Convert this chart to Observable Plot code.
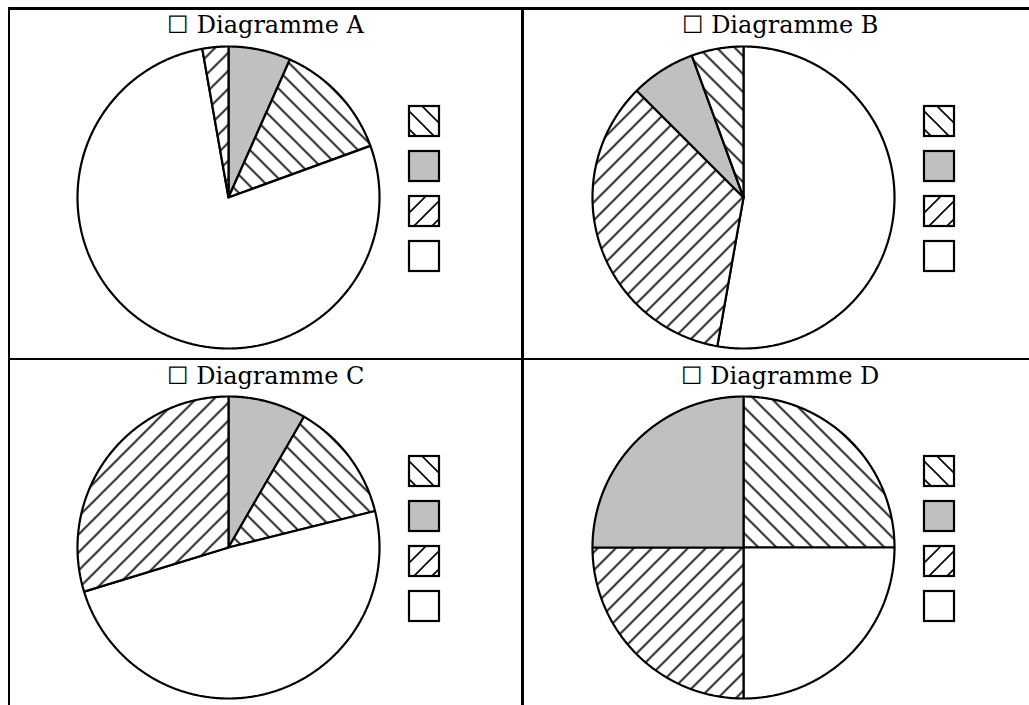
<!DOCTYPE html>
<html>
<head>
<meta charset="utf-8">
<script src="https://cdn.jsdelivr.net/npm/d3@7"></script>
<script src="https://cdn.jsdelivr.net/npm/@observablehq/plot@0.6"></script>
<style>
html, body { margin: 0; padding: 0; background: #fff; overflow: hidden; width: 1029px; height: 705px; }
.rule { position: absolute; background: #000; }
.title { position: absolute; font-family: "DejaVu Serif", "Liberation Serif", serif; font-size: 24px; line-height: 24px; text-align: center; color: #000; white-space: nowrap; }
.cell { position: absolute; }
.cell svg { display: block; overflow: visible; }
</style>
</head>
<body>
<svg width="0" height="0" style="position:absolute">
  <defs>
    <pattern id="hatchDown" patternUnits="userSpaceOnUse" width="18" height="18">
      <rect width="18" height="18" fill="#fff"/>
      <path d="M-2,-2L20,20M-2,16L2,20M16,-2L20,2" stroke="#000" stroke-width="1.6"/>
    </pattern>
    <pattern id="hatchUp" patternUnits="userSpaceOnUse" width="18" height="18">
      <rect width="18" height="18" fill="#fff"/>
      <path d="M-2,20L20,-2M-2,2L2,-2M16,20L20,16" stroke="#000" stroke-width="1.6"/>
    </pattern>
  </defs>
</svg>
<div id="root"></div>
<script>
// ---- data ----
const categories = ["hatchDown", "solid", "hatchUp", "blank"];          // legend order (top to bottom)
const fills = ["url(#hatchDown)", "#c0c0c0", "url(#hatchUp)", "#ffffff"];
const diagrams = ["A", "B", "C", "D"];
const titles = ["☐ Diagramme A", "☐ Diagramme B", "☐ Diagramme C", "☐ Diagramme D"];
// slice sizes (degrees), in the order of `categories`
const valuesA = [46, 24, 10, 280];
const valuesB = [20, 25, 125, 190];
const valuesC = [46, 30, 107, 177];
const valuesD = [90, 90, 90, 90];
// clockwise order of the slices and the slice that starts at 12 o'clock
const clockwiseOrder = ["solid", "hatchDown", "blank", "hatchUp"];
const firstSlice = ["solid", "blank", "solid", "hatchDown"];

// ---- layout ----
const R = 151;
const centers = [[228, 197], [743, 197], [228, 547], [743, 547]];
const cellTitle = [[9, 522, 13], [522, 1038, 13], [9, 522, 364], [522, 1038, 364]];
const W = 500, H = 322, CX = 218, CY = 161;

const root = document.getElementById("root");
function rule(l, t, w, h) {
  const d = document.createElement("div");
  d.className = "rule";
  Object.assign(d.style, {left: l + "px", top: t + "px", width: w + "px", height: h + "px"});
  root.appendChild(d);
}
rule(7.8, 7, 1022, 2.5);
rule(7.8, 357.8, 1022, 2.5);
rule(7.8, 7, 2.5, 700);
rule(521, 7, 2.5, 700);

function slicePoints(values, first) {
  const s = clockwiseOrder.indexOf(first);
  const order = d3.range(4).map(i => clockwiseOrder[(s + i) % 4]);
  const total = d3.sum(values);
  const pts = [];
  let a0 = 0;
  for (const cat of order) {
    const v = values[categories.indexOf(cat)];
    const a1 = a0 + v / total * 2 * Math.PI;
    const n = Math.max(2, Math.ceil((a1 - a0) / (Math.PI / 360)));
    pts.push({x: 0, y: 0, cat});
    for (let k = 0; k <= n; k++) {
      const a = a0 + (a1 - a0) * k / n;
      pts.push({x: Math.sin(a), y: Math.cos(a), cat});
    }
    pts.push({x: 0, y: 0, cat});
    a0 = a1;
  }
  return pts;
}

const allValues = [valuesA, valuesB, valuesC, valuesD];
const half = 15 / R, legendX = 196 / R, legendY0 = 76 / R, legendStep = 45 / R;

diagrams.forEach((dg, i) => {
  const pts = slicePoints(allValues[i], firstSlice[i]);
  const chart = Plot.plot({
    width: W, height: H,
    marginLeft: CX - R, marginRight: W - CX - R, marginTop: CY - R, marginBottom: H - CY - R,
    x: {domain: [-1, 1], axis: null},
    y: {domain: [-1, 1], axis: null},
    color: {type: "ordinal", domain: categories, range: fills},
    marks: [
      Plot.line(pts, {x: "x", y: "y", z: "cat", fill: "cat", stroke: "#000", strokeWidth: 2.2, strokeLinejoin: "miter"}),
      Plot.rect(categories, {
        x1: () => legendX - half, x2: () => legendX + half,
        y1: (d, k) => legendY0 - legendStep * k - half,
        y2: (d, k) => legendY0 - legendStep * k + half,
        fill: d => d, stroke: "#000", strokeWidth: 2.2
      })
    ]
  });
  const cell = document.createElement("div");
  cell.className = "cell";
  cell.style.left = (centers[i][0] - CX) + "px";
  cell.style.top = (centers[i][1] - CY) + "px";
  cell.appendChild(chart);
  root.appendChild(cell);

  const t = document.createElement("div");
  t.className = "title";
  const [l, r, top] = cellTitle[i];
  Object.assign(t.style, {left: l + "px", width: (r - l) + "px", top: top + "px"});
  t.textContent = titles[i];
  root.appendChild(t);
});
</script>
</body>
</html>
